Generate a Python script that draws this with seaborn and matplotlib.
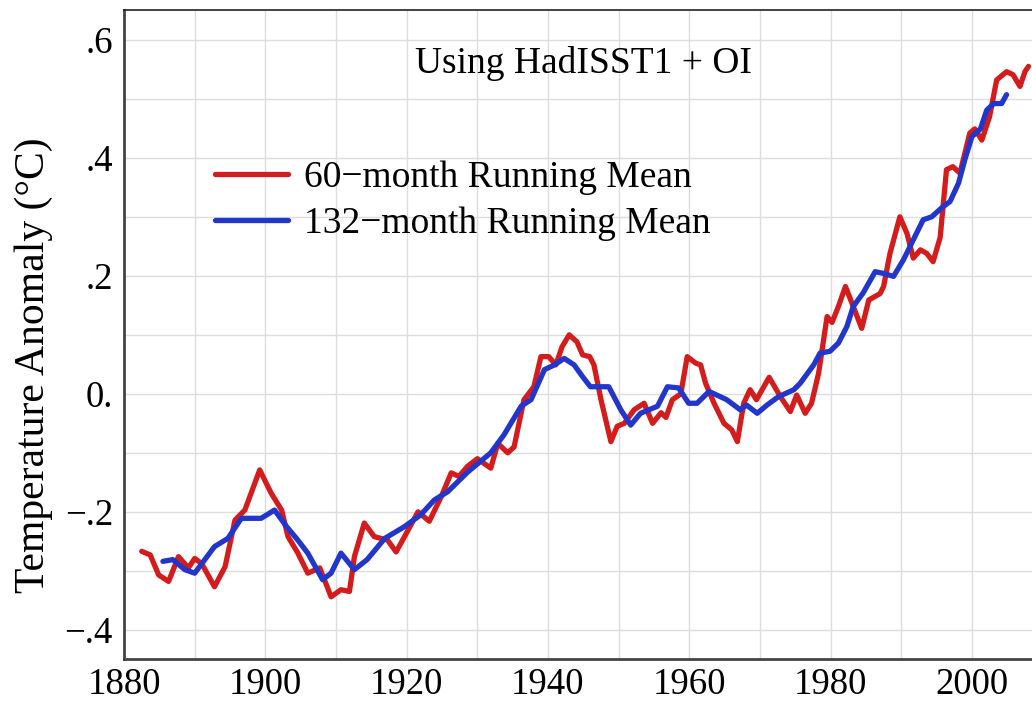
import numpy as np
import pandas as pd
import matplotlib
matplotlib.use("Agg")
import matplotlib.pyplot as plt
import seaborn as sns

# =====================================================
# DATA
# =====================================================

red_years = [
    1882.5, 1883.7, 1884.9, 1886.3, 1887.7, 1889.1, 1890.0, 1891.0, 1892.8, 1894.3,
    1895.7, 1897.1, 1899.2, 1900.8, 1902.3, 1903.2, 1904.6, 1906.0, 1907.7, 1909.3,
    1910.7, 1911.9, 1912.6, 1914.0, 1915.4, 1917.3, 1918.5, 1919.7, 1921.6, 1923.2,
    1924.9, 1926.3, 1927.4, 1928.6, 1930.0, 1931.9, 1932.9, 1934.3, 1935.2, 1936.6,
    1938.0, 1939.0, 1940.1, 1941.1, 1942.0, 1943.0, 1944.1, 1944.9, 1945.9, 1946.5,
    1947.5, 1948.9, 1949.8, 1950.8, 1952.2, 1953.6, 1954.8, 1956.0, 1956.7, 1957.6,
    1958.8, 1959.7, 1960.9, 1961.6, 1962.3, 1963.5, 1964.9, 1966.0, 1966.8, 1967.7,
    1968.6, 1969.5, 1971.3, 1972.9, 1974.3, 1975.2, 1976.4, 1977.3, 1978.3, 1979.5,
    1980.2, 1981.1, 1982.1, 1983.2, 1984.4, 1985.4, 1987.0, 1987.5, 1988.4, 1989.8,
    1990.8, 1991.7, 1992.7, 1993.6, 1994.5, 1995.5, 1996.4, 1997.3, 1998.3, 1999.7,
    2000.4, 2001.4, 2002.5, 2003.5, 2004.9, 2005.8, 2006.8, 2007.5, 2008.0,
]
red_values = [
    -0.267, -0.273, -0.307, -0.318, -0.276, -0.295, -0.279, -0.288, -0.327, -0.293,
    -0.214, -0.197, -0.129, -0.168, -0.197, -0.242, -0.270, -0.304, -0.295, -0.344,
    -0.332, -0.335, -0.276, -0.219, -0.242, -0.248, -0.268, -0.242, -0.200, -0.216,
    -0.174, -0.134, -0.140, -0.123, -0.110, -0.126, -0.084, -0.100, -0.090, -0.010,
    0.012, 0.063, 0.063, 0.049, 0.080, 0.100, 0.088, 0.066, 0.063, 0.049,
    -0.010, -0.081, -0.055, -0.050, -0.027, -0.016, -0.050, -0.032, -0.040, -0.010,
    0.000, 0.063, 0.052, 0.049, 0.018, -0.016, -0.050, -0.061, -0.081, -0.016,
    0.007, -0.010, 0.028, -0.005, -0.030, -0.002, -0.033, -0.016, 0.035, 0.131,
    0.121, 0.148, 0.182, 0.148, 0.111, 0.159, 0.170, 0.182, 0.238, 0.300,
    0.272, 0.230, 0.244, 0.238, 0.224, 0.265, 0.380, 0.385, 0.374, 0.442,
    0.449, 0.430, 0.470, 0.532, 0.546, 0.541, 0.521, 0.546, 0.555,
]

blue_years = [
    1885.5, 1886.9, 1888.6, 1890.0, 1892.8, 1894.7, 1896.6, 1899.4, 1901.3, 1903.0,
    1904.6, 1906.0, 1908.1, 1909.3, 1910.7, 1912.6, 1914.4, 1916.9, 1919.7, 1922.0,
    1923.9, 1925.8, 1928.6, 1931.9, 1933.8, 1936.2, 1937.6, 1939.5, 1940.9, 1942.3,
    1943.7, 1944.9, 1946.0, 1948.6, 1950.3, 1951.7, 1953.1, 1955.5, 1956.9, 1958.5,
    1959.9, 1961.1, 1962.8, 1965.3, 1967.2, 1968.1, 1969.6, 1971.0, 1972.6, 1974.8,
    1975.7, 1977.6, 1978.5, 1979.9, 1981.1, 1982.3, 1983.2, 1984.6, 1986.3, 1987.5,
    1988.9, 1990.3, 1991.7, 1993.1, 1994.3, 1995.7, 1996.9, 1998.1, 1999.0, 2000.0,
    2001.2, 2002.1, 2003.1, 2004.2, 2004.9,
]
blue_values = [
    -0.284, -0.281, -0.298, -0.304, -0.259, -0.245, -0.211, -0.211, -0.197, -0.225,
    -0.248, -0.270, -0.315, -0.304, -0.270, -0.298, -0.281, -0.245, -0.225, -0.205,
    -0.180, -0.166, -0.133, -0.100, -0.069, -0.021, -0.010, 0.041, 0.049, 0.060,
    0.049, 0.029, 0.012, 0.012, -0.027, -0.053, -0.033, -0.021, 0.012, 0.010,
    -0.016, -0.016, 0.004, -0.010, -0.027, -0.019, -0.033, -0.019, -0.005, 0.007,
    0.018, 0.049, 0.069, 0.072, 0.086, 0.114, 0.148, 0.171, 0.207, 0.204,
    0.199, 0.227, 0.261, 0.295, 0.300, 0.315, 0.326, 0.357, 0.397, 0.436,
    0.449, 0.481, 0.492, 0.492, 0.507,
]

x_ticks = [1880, 1900, 1920, 1940, 1960, 1980, 2000]
y_ticks = [-0.4, -0.2, 0.0, 0.2, 0.4, 0.6]
y_tick_labels = ["\u2212.4", "\u2212.2", "0.", ".2", ".4", ".6"]

red_label = "60\u2212month Running Mean"
blue_label = "132\u2212month Running Mean"
title_text = "Using HadISST1 + OI"
y_label = "Temperature Anomaly (\u00b0C)"

# =====================================================
# STYLE
# =====================================================

sns.set_style("white")
plt.rcParams["font.family"] = ["Liberation Serif", "DejaVu Serif"]
plt.rcParams["text.color"] = "black"
plt.rcParams["axes.labelcolor"] = "black"
plt.rcParams["xtick.color"] = "black"
plt.rcParams["ytick.color"] = "black"

red = "#d41c1c"
blue = "#2236cc"

# =====================================================
# PLOT
# =====================================================

fig = plt.figure(figsize=(10.32, 7.02), dpi=100)
ax = fig.add_axes([0.1202, 0.0608, 0.8798, 0.9245])

sns.lineplot(x=red_years, y=red_values, ax=ax, color=red,
             linewidth=3.8, label=red_label, solid_joinstyle="round")
sns.lineplot(x=blue_years, y=blue_values, ax=ax, color=blue,
             linewidth=3.8, label=blue_label, solid_joinstyle="round")

ax.set_xlim(1880, 2008.5)
ax.set_ylim(-0.45, 0.65)

ax.set_xticks(x_ticks)
ax.set_yticks(y_ticks)
ax.set_yticklabels(y_tick_labels)
ax.set_xticks(np.arange(1890, 2010, 20), minor=True)
ax.set_yticks(np.arange(-0.3, 0.6, 0.2), minor=True)

ax.grid(which="both", color="#dddddd", linewidth=1.0)
ax.set_axisbelow(True)

ax.tick_params(axis="both", which="both", length=0, labelsize=26.5,
               labelcolor="black")
ax.tick_params(axis="y", pad=8)
ax.tick_params(axis="x", pad=6)

for side in ["left", "bottom"]:
    ax.spines[side].set_color("#444444")
    ax.spines[side].set_linewidth(2.0)
ax.spines["top"].set_color("#222222")
ax.spines["top"].set_linewidth(1.2)
ax.spines["right"].set_visible(False)

ax.set_xlabel("")
ax.set_ylabel(y_label, fontsize=30, color="black")
ax.yaxis.set_label_coords(-0.078, 0.4535)

ax.text(0.5055, 0.9034, title_text, transform=ax.transAxes,
        ha="center", va="baseline", fontsize=27, color="black")

leg = ax.legend(loc="upper left", bbox_to_anchor=(0.100, 0.7686),
                frameon=False, fontsize=27, handlelength=1.96,
                handletextpad=0.43, borderpad=0, borderaxespad=0,
                labelspacing=0.30)
for t in leg.get_texts():
    t.set_color("black")

plt.savefig("out.png", dpi=100)
